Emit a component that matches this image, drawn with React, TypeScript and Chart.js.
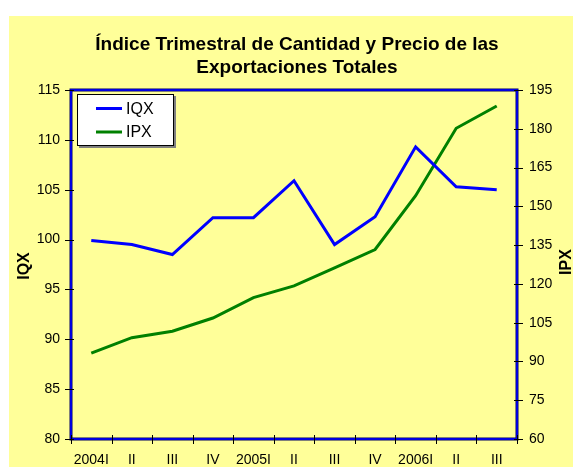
import React, { useEffect, useRef } from "react";
import { Chart, registerables } from "chart.js";

Chart.register(...registerables);

const categories = ["2004I", "II", "III", "IV", "2005I", "II", "III", "IV", "2006I", "II", "III"];
const iqxValues = [99.9, 99.5, 98.5, 102.2, 102.2, 105.9, 99.5, 102.3, 109.3, 105.3, 105.0];
const ipxValues = [93.2, 99.2, 101.7, 106.8, 114.7, 119.2, 126.2, 133.3, 154.1, 180.2, 188.8];
const titleLines = ["Índice Trimestral de Cantidad y Precio de las", "Exportaciones Totales"];
const seriesNames = ["IQX", "IPX"];
const seriesColors = ["#0000FF", "#008000"];

const FONT = "'Liberation Sans', Arial, sans-serif";
const YELLOW = "#FFFF99";

const decorPlugin = {
  id: "decor",
  beforeDraw(chart: any) {
    const ctx = chart.ctx;
    ctx.save();
    ctx.fillStyle = "#FFFFFF";
    ctx.fillRect(0, 0, chart.width, chart.height);
    ctx.fillStyle = YELLOW;
    ctx.fillRect(9, 16, chart.width - 9, chart.height - 16);
    // title
    ctx.fillStyle = "#000";
    ctx.font = `bold 19px ${FONT}`;
    ctx.textAlign = "center";
    ctx.textBaseline = "middle";
    ctx.fillText(titleLines[0], 297, 45);
    ctx.fillText(titleLines[1], 297, 68);
    // axis titles
    ctx.font = `bold 16px ${FONT}`;
    ctx.save();
    ctx.translate(25, 266);
    ctx.rotate(-Math.PI / 2);
    ctx.fillText(seriesNames[0], 0, 0);
    ctx.restore();
    ctx.save();
    ctx.translate(567, 262);
    ctx.rotate(-Math.PI / 2);
    ctx.fillText(seriesNames[1], 0, 0);
    ctx.restore();
    ctx.restore();
  },
  afterDatasetsDraw(chart: any) {
    const ctx = chart.ctx;
    const a = chart.chartArea;
    ctx.save();
    // border
    ctx.strokeStyle = "#000060";
    ctx.lineWidth = 3;
    ctx.strokeRect(a.left, a.top, a.right - a.left, a.bottom - a.top);
    ctx.strokeStyle = "#0000FF";
    ctx.lineWidth = 1.6;
    ctx.strokeRect(a.left, a.top, a.right - a.left, a.bottom - a.top);
    // ticks
    ctx.strokeStyle = "#000";
    ctx.lineWidth = 1;
    const y = chart.scales.y;
    y.ticks.forEach((t: any) => {
      const py = Math.round(y.getPixelForValue(t.value)) + 0.5;
      ctx.beginPath();
      ctx.moveTo(a.left - 6, py);
      ctx.lineTo(a.left + 3, py);
      ctx.stroke();
    });
    const y2 = chart.scales.y2;
    y2.ticks.forEach((t: any) => {
      const py = Math.round(y2.getPixelForValue(t.value)) + 0.5;
      ctx.beginPath();
      ctx.moveTo(a.right - 3, py);
      ctx.lineTo(a.right + 6, py);
      ctx.stroke();
    });
    const n = categories.length;
    for (let i = 0; i <= n; i++) {
      const px = Math.round(a.left + (i * (a.right - a.left)) / n) + 0.5;
      ctx.beginPath();
      ctx.moveTo(px, a.bottom - 4);
      ctx.lineTo(px, a.bottom + 5);
      ctx.stroke();
    }
    // legend
    const lx = 77, ly = 94, lw = 97, lh = 52;
    ctx.fillStyle = "#808080";
    ctx.fillRect(lx + 2, ly + 2, lw, lh);
    ctx.fillStyle = "#FFFFFF";
    ctx.fillRect(lx, ly, lw, lh);
    ctx.strokeStyle = "#000";
    ctx.lineWidth = 1;
    ctx.strokeRect(lx + 0.5, ly + 0.5, lw - 1, lh - 1);
    ctx.font = `16px ${FONT}`;
    ctx.textAlign = "left";
    ctx.textBaseline = "middle";
    const rows = [108.5, 132];
    rows.forEach((ry, i) => {
      ctx.strokeStyle = seriesColors[i];
      ctx.lineWidth = 3;
      ctx.beginPath();
      ctx.moveTo(96, ry);
      ctx.lineTo(122, ry);
      ctx.stroke();
      ctx.fillStyle = "#000";
      ctx.fillText(seriesNames[i], 126, ry + 1);
    });
    ctx.restore();
  },
};

export default function App() {
  const ref = useRef<HTMLCanvasElement | null>(null);
  useEffect(() => {
    if (!ref.current) return;
    const chart = new Chart(ref.current, {
      type: "line",
      data: {
        labels: categories,
        datasets: [
          {
            label: seriesNames[0],
            data: iqxValues,
            borderColor: seriesColors[0],
            backgroundColor: seriesColors[0],
            borderWidth: 3,
            pointRadius: 0,
            tension: 0,
            yAxisID: "y",
          },
          {
            label: seriesNames[1],
            data: ipxValues,
            borderColor: seriesColors[1],
            backgroundColor: seriesColors[1],
            borderWidth: 3,
            pointRadius: 0,
            tension: 0,
            yAxisID: "y2",
          },
        ],
      },
      options: {
        animation: false,
        responsive: false,
        devicePixelRatio: 1,
        layout: { padding: { top: 90, left: 0, right: 0, bottom: 0 } },
        plugins: {
          legend: { display: false },
          title: { display: false },
          tooltip: { enabled: false },
        },
        scales: {
          x: {
            type: "category",
            offset: true,
            grid: { display: false, drawTicks: false },
            border: { display: false },
            ticks: {
              color: "#000",
              font: { family: FONT, size: 14 },
              padding: 13,
              maxRotation: 0,
              autoSkip: false,
            },
            afterFit: (s: any) => {
              s.height = 28;
            },
          },
          y: {
            position: "left",
            min: 80,
            max: 115,
            grid: { display: false, drawTicks: false },
            border: { display: false },
            ticks: {
              stepSize: 5,
              color: "#000",
              font: { family: FONT, size: 14 },
              padding: 11,
            },
            afterFit: (s: any) => {
              s.width = 71;
            },
          },
          y2: {
            position: "right",
            min: 60,
            max: 195,
            grid: { display: false, drawTicks: false },
            border: { display: false },
            ticks: {
              stepSize: 15,
              color: "#000",
              font: { family: FONT, size: 14 },
              padding: 12,
            },
            afterFit: (s: any) => {
              s.width = 56;
            },
          },
        },
      },
      plugins: [decorPlugin],
    });
    return () => chart.destroy();
  }, []);
  return (
    <div style={{ position: "fixed", left: 0, top: 0, width: 573, height: 467 }}>
      <canvas ref={ref} width={573} height={467} style={{ display: "block" }} />
    </div>
  );
}
